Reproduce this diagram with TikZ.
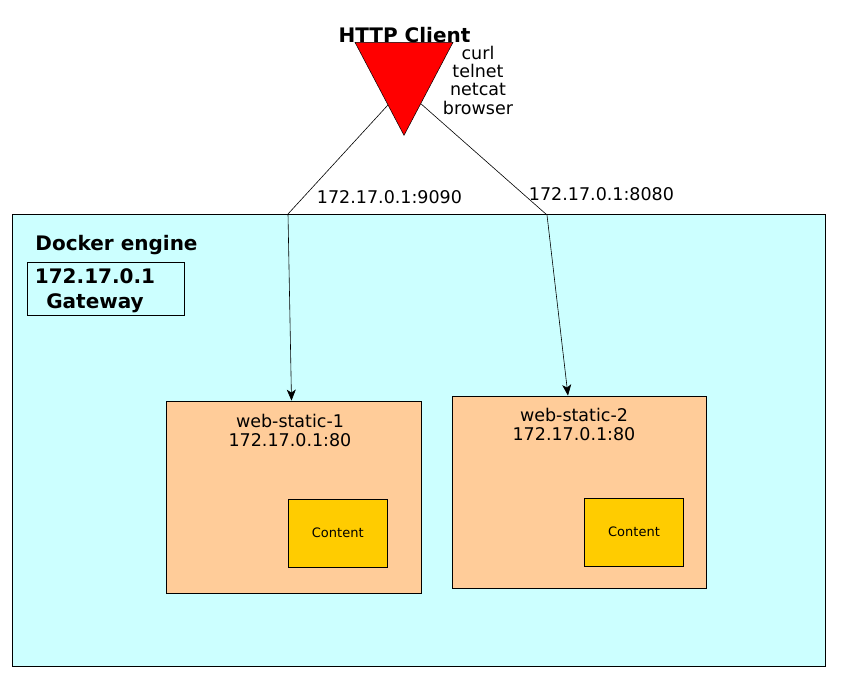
\documentclass[tikz,border=0pt]{standalone}
\usepackage{fontspec}
\setmainfont{DejaVu Sans}
\usetikzlibrary{shapes.geometric,arrows.meta}
\definecolor{engine}{HTML}{CCFFFF}
\definecolor{container}{HTML}{FFCC99}
\definecolor{content}{HTML}{FFCC00}

\begin{document}
\begin{tikzpicture}[x=1pt, y=-1pt, >={Stealth[length=11pt,width=9pt,inset=3pt]},
    big/.style={font=\fontsize{20}{25}\selectfont\bfseries},
    txt/.style={font=\fontsize{17.5}{19}\selectfont}]
\useasboundingbox (0,0) rectangle (842,685);

% Docker engine area
\node[draw, rectangle, line width=0.8pt, fill=engine, minimum width=813pt, minimum height=452pt] (docker) at (418.5,440) {};
\node[big, anchor=base] (enginelbl) at (116.5,250.7) {Docker engine};

% Gateway
\node[draw, rectangle, line width=0.8pt, minimum width=157pt, minimum height=53pt] (gateway) at (105.5,288.5) {};
\node[big, anchor=base, align=center] (gatewaylbl) at (95,308.3) {172.17.0.1\\Gateway};

% HTTP client
\node[draw, isosceles triangle, isosceles triangle stretches, shape border rotate=-90, fill=red,
    line width=0.5pt, minimum width=98pt, minimum height=93pt, inner sep=0pt, anchor=apex] (client) at (404,136) {};
\node[big, anchor=base] (clientlbl) at (404.5,42) {HTTP Client};
\node[txt, anchor=base, align=center, font=\fontsize{17.5}{18.4}\selectfont] (tools) at (478,114.3) {curl\\telnet\\netcat\\browser};

% Containers
\node[draw, rectangle, line width=0.8pt, fill=container, minimum width=255pt, minimum height=192pt] (web1) at (293.5,497) {};
\node[txt, anchor=base, align=center] (web1lbl) at (290,446) {web-static-1\\172.17.0.1:80};
\node[draw, rectangle, line width=0.8pt, fill=content, minimum width=99.5pt, minimum height=68pt, font=\fontsize{13}{15}\selectfont] (content1) at (337.75,533) {Content};

\node[draw, rectangle, line width=0.8pt, fill=container, minimum width=254pt, minimum height=192pt] (web2) at (579,492) {};
\node[txt, anchor=base, align=center] (web2lbl) at (574,440) {web-static-2\\172.17.0.1:80};
\node[draw, rectangle, line width=0.8pt, fill=content, minimum width=99pt, minimum height=68pt, font=\fontsize{13}{15}\selectfont] (content2) at (634,532) {Content};

% Port mappings
\coordinate (port1) at (288,214);
\coordinate (port2) at (547,215);
\draw[->, line width=0.6pt] (client.244) -- (port1) -- ([xshift=-2pt]web1.north);
\draw[->, line width=0.6pt] (client.298) -- (port2) -- ([xshift=-11pt]web2.north);
\node[txt, anchor=base] (port1lbl) at (389.5,203.3) {172.17.0.1:9090};
\node[txt, anchor=base] (port2lbl) at (601.5,200.7) {172.17.0.1:8080};
\end{tikzpicture}
\end{document}
